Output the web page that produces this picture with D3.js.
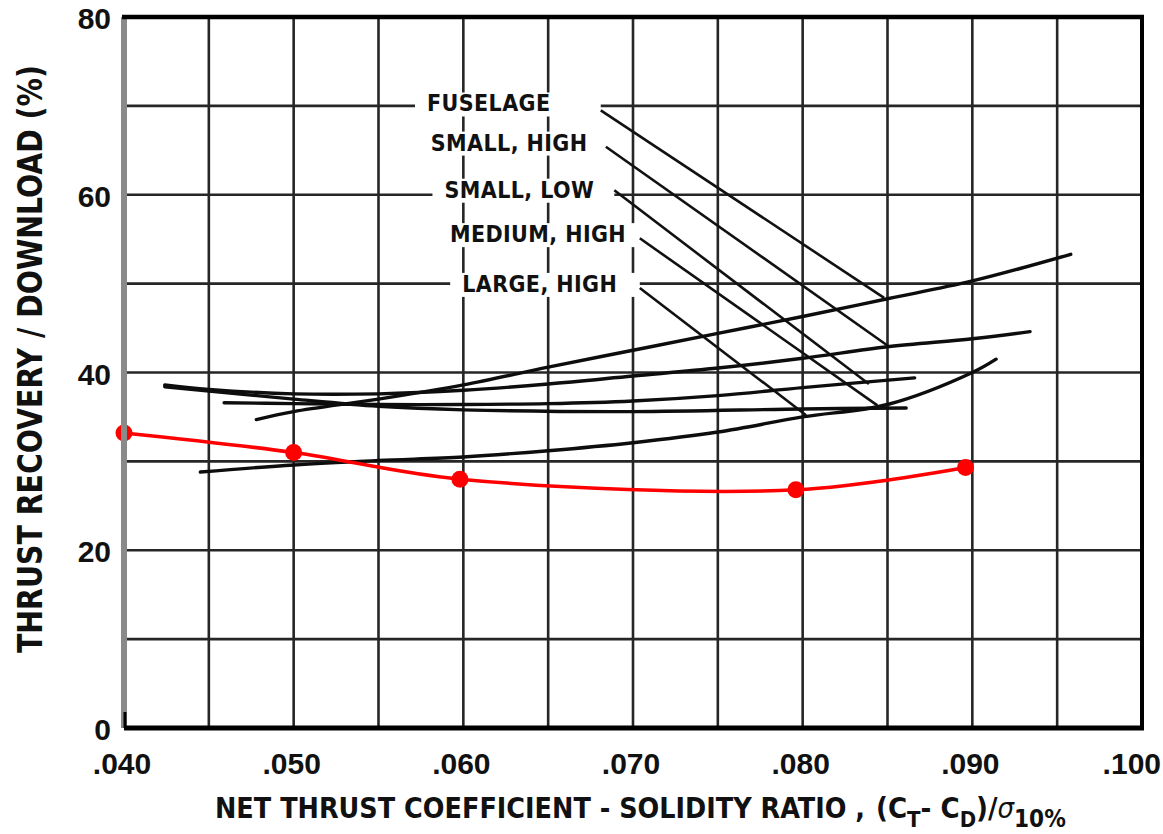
<!DOCTYPE html>
<html>
<head>
<meta charset="utf-8">
<script src="https://cdn.jsdelivr.net/npm/d3@7"></script>
<style>
  body { margin: 0; background: #fff; }
  svg { display: block; }
  .tick { font-family: "Liberation Sans", Arial, sans-serif; font-weight: bold; fill: #111; }
  .lbl { font-family: "Liberation Sans Narrow", "DejaVu Sans Condensed", "Liberation Sans", sans-serif; font-weight: bold; fill: #111; }
</style>
</head>
<body>
<svg id="chart" width="1163" height="834"></svg>
<script>
// values

var xTicks = [0.040, 0.050, 0.060, 0.070, 0.080, 0.090, 0.100];
var xTickLabels = [".040", ".050", ".060", ".070", ".080", ".090", ".100"];
var yTicks = [0, 20, 40, 60, 80];
var yTickLabels = ["0", "20", "40", "60", "80"];

// red series (measured points)
var redX = [0.040, 0.050, 0.0598, 0.0796, 0.0896];
var redY = [33.2, 31.0, 28.0, 26.8, 29.3];

// black curves, [ratio, percent]
var fuselage = [[0.0478, 34.7], [0.050, 35.6], [0.055, 37.0], [0.060, 38.6], [0.065, 40.6], [0.070, 42.5], [0.075, 44.4], [0.080, 46.3], [0.085, 48.3], [0.090, 50.3], [0.0958, 53.3]];
var smallHigh = [[0.0424, 38.6], [0.045, 38.1], [0.050, 37.6], [0.055, 37.6], [0.060, 38.0], [0.065, 38.7], [0.070, 39.6], [0.075, 40.5], [0.080, 41.6], [0.085, 42.9], [0.090, 43.8], [0.0934, 44.6]];
var smallLow = [[0.0459, 36.6], [0.050, 36.5], [0.055, 36.4], [0.060, 36.4], [0.065, 36.5], [0.070, 36.8], [0.075, 37.4], [0.080, 38.3], [0.0866, 39.4]];
var mediumHigh = [[0.0424, 38.4], [0.050, 37.0], [0.055, 36.2], [0.060, 35.8], [0.070, 35.6], [0.080, 35.9], [0.0861, 36.0]];
var largeHigh = [[0.0445, 28.8], [0.050, 29.6], [0.055, 30.1], [0.060, 30.5], [0.065, 31.2], [0.070, 32.1], [0.075, 33.3], [0.080, 35.0], [0.085, 36.4], [0.090, 40.0], [0.0914, 41.5]];

// labels + leader lines (data coords)
var labelNames = ["FUSELAGE", "SMALL, HIGH", "SMALL, LOW", "MEDIUM, HIGH", "LARGE, HIGH"];
var labelAt = [[0.0615, 70.3], [0.0627, 65.9], [0.0633, 60.6], [0.0644, 55.6], [0.0645, 50.0]];
var leaderFrom = [[0.0681, 69.5], [0.0684, 65.4], [0.0689, 60.5], [0.0704, 55.1], [0.0704, 49.5]];
var leaderTo = [[0.0848, 48.4], [0.0851, 42.9], [0.0839, 38.7], [0.0844, 36.3], [0.0802, 35.2]];

var svg = d3.select("#chart");

var plot = { left: 124, right: 1142, top: 17, bottom: 728 };

var xScale = d3.scaleLinear().domain([0.04, 0.10]).range([plot.left, plot.right]);
var yScale = d3.scaleLinear().domain([0, 80]).range([plot.bottom, plot.top]);

//========= grid
var grid = svg.append("g").attr("stroke", "#262626").attr("stroke-width", 2.6);

grid.selectAll(".vg")
    .data(d3.ticks(0.04, 0.10, 12).slice(1, -1))
    .join("line")
    .attr("x1", d => xScale(d)).attr("x2", d => xScale(d))
    .attr("y1", plot.top).attr("y2", plot.bottom);

grid.selectAll(".hg")
    .data(d3.range(10, 80, 10))
    .join("line")
    .attr("x1", plot.left).attr("x2", plot.right)
    .attr("y1", d => yScale(d)).attr("y2", d => yScale(d));

//========= labels with white boxes that break the grid
var labels = svg.append("g");

labelNames.forEach(function(name, i){
    var g = labels.append("g");
    var box = g.append("rect").attr("fill", "#fff");
    var t = g.append("text")
        .attr("class", "lbl")
        .attr("x", xScale(labelAt[i][0]))
        .attr("y", yScale(labelAt[i][1]))
        .attr("dy", "0.36em")
        .attr("text-anchor", "middle")
        .attr("font-size", 23)
        .attr("letter-spacing", 0.4)
        .text(name);
    var bb = t.node().getBBox();
    var x0 = bb.x - 12;
    var x1 = xScale(leaderFrom[i][0]);
    box.attr("x", x0).attr("y", bb.y + 2).attr("width", x1 - x0).attr("height", bb.height - 2);
});

// leader lines
svg.append("g")
    .attr("stroke", "#111")
    .attr("stroke-width", 2.6)
    .selectAll("line")
    .data(leaderFrom)
    .join("line")
    .attr("x1", d => xScale(d[0]))
    .attr("y1", d => yScale(d[1]))
    .attr("x2", (d, i) => xScale(leaderTo[i][0]))
    .attr("y2", (d, i) => yScale(leaderTo[i][1]));

//========= black curves
var blackLine = d3.line()
    .x(d => xScale(d[0]))
    .y(d => yScale(d[1]))
    .curve(d3.curveCatmullRom.alpha(0.5));

svg.append("g")
    .attr("fill", "none")
    .attr("stroke", "#0d0d0d")
    .attr("stroke-width", 3.4)
    .attr("stroke-linecap", "round")
    .selectAll("path")
    .data([fuselage, smallHigh, smallLow, mediumHigh, largeHigh])
    .join("path")
    .attr("d", blackLine);

//========= red series
var redPts = redX.map((x, i) => ({ x: x, y: redY[i] }));

svg.append("path")
    .datum(redPts)
    .attr("fill", "none")
    .attr("stroke", "#ff0000")
    .attr("stroke-width", 3.5)
    .attr("d", d3.line().x(d => xScale(d.x)).y(d => yScale(d.y)).curve(d3.curveCatmullRom.alpha(0.5)));

svg.append("g")
    .selectAll("circle")
    .data(redPts)
    .join("circle")
    .attr("cx", d => xScale(d.x))
    .attr("cy", d => yScale(d.y))
    .attr("r", 8.5)
    .attr("fill", "#ff0000");

//========= frame
var frame = svg.append("g");
frame.append("line").attr("x1", plot.left).attr("x2", plot.left).attr("y1", plot.top).attr("y2", plot.bottom)
    .attr("stroke", "#8a8a8a").attr("stroke-width", 6);
frame.append("line").attr("x1", plot.left + 1).attr("x2", plot.left + 1).attr("y1", plot.bottom - 16).attr("y2", plot.bottom)
    .attr("stroke", "#000").attr("stroke-width", 3);
frame.append("line").attr("x1", plot.right).attr("x2", plot.right).attr("y1", plot.top).attr("y2", plot.bottom)
    .attr("stroke", "#000").attr("stroke-width", 4);
frame.append("line").attr("x1", plot.left - 2).attr("x2", plot.right + 2).attr("y1", plot.top).attr("y2", plot.top)
    .attr("stroke", "#000").attr("stroke-width", 4.5);
frame.append("line").attr("x1", plot.left).attr("x2", plot.right + 2).attr("y1", plot.bottom).attr("y2", plot.bottom)
    .attr("stroke", "#000").attr("stroke-width", 5);

//========= tick labels
svg.append("g").selectAll("text")
    .data(xTicks)
    .join("text")
    .attr("class", "tick")
    .attr("y", plot.bottom + 46)
    .attr("text-anchor", "middle")
    .attr("font-size", 30)
    .text((d, i) => xTickLabels[i])
    .attr("x", function(d){
        // keep the last label inside the page
        var half = this.getComputedTextLength() / 2;
        return Math.min(xScale(d) - 2, 1161 - half);
    });

svg.append("g").selectAll("text")
    .data(yTicks)
    .join("text")
    .attr("class", "tick")
    .attr("x", plot.left - 13)
    .attr("y", d => yScale(d) + 12)
    .attr("text-anchor", "end")
    .attr("font-size", 30)
    .text((d, i) => yTickLabels[i]);

//========= axis titles
svg.append("text")
    .attr("class", "lbl")
    .attr("transform", "translate(42,359) rotate(-90)")
    .attr("text-anchor", "middle")
    .attr("font-size", 34)
    .attr("textLength", 588)
    .attr("lengthAdjust", "spacingAndGlyphs")
    .text("THRUST RECOVERY / DOWNLOAD (%)");

svg.append("text")
    .attr("class", "lbl")
    .attr("x", 215)
    .attr("y", 818)
    .attr("font-size", 29)
    .attr("textLength", 650)
    .attr("lengthAdjust", "spacingAndGlyphs")
    .text("NET THRUST COEFFICIENT - SOLIDITY RATIO ,");

var formula = svg.append("text")
    .attr("class", "lbl")
    .attr("x", 876)
    .attr("y", 818)
    .attr("font-size", 29);
formula.append("tspan").text("(C");
formula.append("tspan").attr("dy", 9).attr("font-size", 22).text("T");
formula.append("tspan").attr("dy", -9).text("- C");
formula.append("tspan").attr("dy", 9).attr("font-size", 22).text("D");
formula.append("tspan").attr("dy", -9).text(")/");
formula.append("tspan").attr("font-style", "italic").attr("font-weight", "normal").text("σ");
formula.append("tspan").attr("dy", 9).attr("font-size", 24).text("10%");
</script>
</body>
</html>
